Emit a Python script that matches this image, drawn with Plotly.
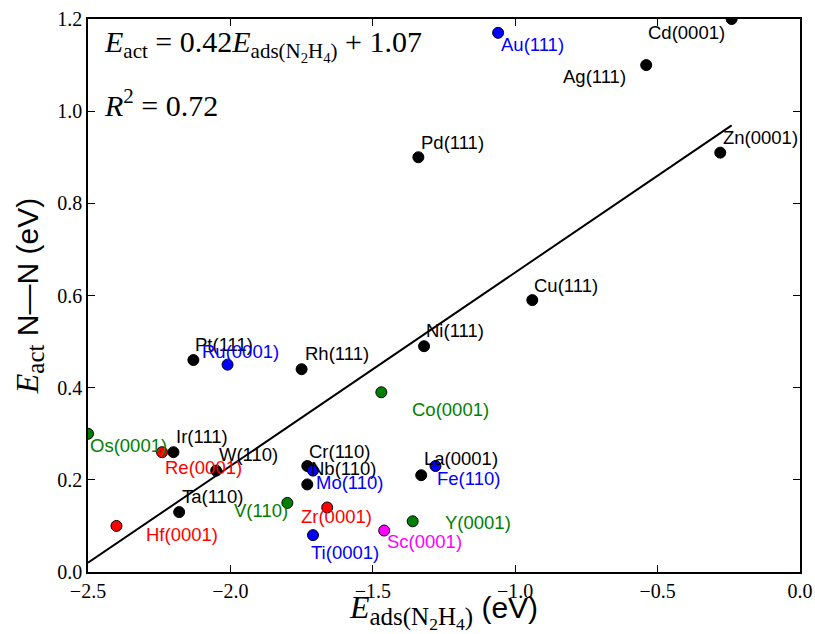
import plotly.graph_objects as go

# ---- data ----
surfaces = ["Pd(111)", "Zn(0001)", "Cd(0001)", "Ag(111)", "Au(111)", "Cu(111)", "Ni(111)",
            "Pt(111)", "Ru(0001)", "Rh(111)", "Co(0001)", "Os(0001)", "Ir(111)", "Re(0001)",
            "W(110)", "Cr(110)", "Nb(110)", "Mo(110)", "Ta(110)", "Hf(0001)", "V(110)",
            "Zr(0001)", "Ti(0001)", "Sc(0001)", "Y(0001)", "La(0001)", "Fe(110)"]
e_ads = [-1.34, -0.28, -0.24, -0.54, -1.06, -0.94, -1.32,
         -2.13, -2.01, -1.75, -1.47, -2.50, -2.20, -2.24,
         -2.05, -1.73, -1.73, -1.71, -2.18, -2.40, -1.80,
         -1.66, -1.71, -1.46, -1.36, -1.33, -1.28]
e_act = [0.90, 0.91, 1.20, 1.10, 1.17, 0.59, 0.49,
         0.46, 0.45, 0.44, 0.39, 0.30, 0.26, 0.26,
         0.22, 0.23, 0.19, 0.22, 0.13, 0.10, 0.15,
         0.14, 0.08, 0.09, 0.11, 0.21, 0.23]
groups = ["k", "k", "k", "k", "b", "k", "k",
          "k", "b", "k", "g", "g", "k", "r",
          "k", "k", "k", "b", "k", "r", "g",
          "r", "b", "m", "g", "k", "b"]
fit_slope = 0.42
fit_intercept = 1.07
fit_x = [-2.5, -0.24]
x_ticks = [-2.5, -2.0, -1.5, -1.0, -0.5, 0.0]
y_ticks = [0.0, 0.2, 0.4, 0.6, 0.8, 1.0, 1.2]

# ---- styles ----
palette = {"k": "#000000", "b": "#0000ff", "g": "#008000", "r": "#ff0000", "m": "#ff00ff"}
label_offsets = [(1, 15), (1, 15), (-86, -13), (-85, -11), (1, -12), (0, 15), (0, 16),
                 (0, 16), (-28, 13), (1, 16), (29, -17), (0, -12), (1, 16), (1, -15),
                 (1, 16), (0, 15), (2, 16), (1, -12), (1, 16), (28, -9), (-55, -8),
                 (-28, -9), (-4, -17), (1, -11), (30, -1), (1, 17), (0, -12)]

SERIF = "Liberation Serif"
SANS = "Liberation Sans"

fig = go.Figure()

fit_y = [fit_slope * x + fit_intercept for x in fit_x]
fig.add_trace(go.Scatter(x=fit_x, y=fit_y, mode="lines",
                         line=dict(color="black", width=2), hoverinfo="skip"))

fig.add_trace(go.Scatter(
    x=e_ads, y=e_act, mode="markers",
    marker=dict(size=11, color=[palette[g] for g in groups],
                line=dict(color="black", width=1)),
    text=surfaces, hoverinfo="text"))

annotations = []
for name, x, y, g, (dx, dy) in zip(surfaces, e_ads, e_act, groups, label_offsets):
    annotations.append(dict(x=x, y=y, xref="x", yref="y", text=name, showarrow=False,
                            xanchor="left", yanchor="middle", xshift=dx, yshift=dy,
                            font=dict(family=SANS, size=18.5, color=palette[g])))

annotations.append(dict(
    x=0.02, y=0.952, xref="paper", yref="paper", xanchor="left", yanchor="middle",
    showarrow=False,
    text="<i>E</i><sub>act</sub> = 0.42<i>E</i><sub>ads(N<sub>2</sub>H<sub>4</sub>)</sub> + 1.07",
    font=dict(family=SERIF, size=30, color="black")))
annotations.append(dict(
    x=0.02, y=0.848, xref="paper", yref="paper", xanchor="left", yanchor="middle",
    showarrow=False,
    text="<i>R</i><sup>2</sup> = 0.72",
    font=dict(family=SERIF, size=30, color="black")))

x_title = ("<i><span style=\"font-family:Liberation Serif;font-size:32px\">E</span></i>"
           "<sub><span style=\"font-family:Liberation Serif;font-size:25px\">ads(N"
           "<sub>2</sub>H<sub>4</sub>)</span></sub> (eV)")
y_title = ("<i><span style=\"font-family:Liberation Serif;font-size:32px\">E</span></i>"
           "<sub><span style=\"font-family:Liberation Serif;font-size:25px\">act</span></sub>"
           " N—N (eV)")

fig.update_layout(
    width=815, height=634,
    margin=dict(l=88, r=15, t=19, b=62, autoexpand=False),
    paper_bgcolor="white", plot_bgcolor="white",
    showlegend=False,
    annotations=annotations,
    xaxis=dict(range=[-2.5, 0.0], tickvals=x_ticks, tickformat=".1f",
               ticks="inside", ticklen=7, tickcolor="black", mirror="ticks",
               showline=True, linecolor="black", linewidth=1.5, showgrid=False,
               zeroline=False, automargin=False,
               tickfont=dict(family=SERIF, size=20, color="black"),
               title=dict(text=x_title,
                          font=dict(family=SANS, size=30, color="black"), standoff=2)),
    yaxis=dict(range=[0.0, 1.2], tickvals=y_ticks, tickformat=".1f",
               ticks="inside", ticklen=7, tickcolor="black", mirror="ticks",
               showline=True, linecolor="black", linewidth=1.5, showgrid=False,
               zeroline=False, automargin=False,
               tickfont=dict(family=SERIF, size=20, color="black"),
               title=dict(text=y_title,
                          font=dict(family=SANS, size=30, color="black"), standoff=10)),
)

fig.write_html("out.html", config={"displayModeBar": False},
               post_script="document.body.style.margin='0';")
